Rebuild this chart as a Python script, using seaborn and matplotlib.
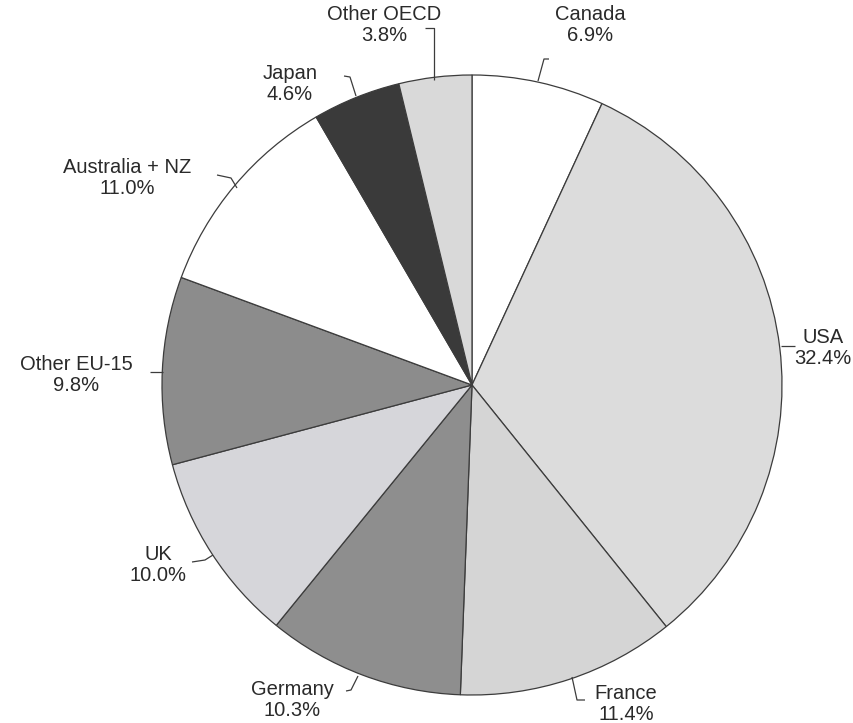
import matplotlib
matplotlib.use("Agg")
import matplotlib.pyplot as plt
import seaborn as sns

sns.set_theme(style="white")
plt.rcParams['font.family'] = ['Liberation Sans', 'DejaVu Sans']

regions = ["Canada", "USA", "France", "Germany", "UK", "Other EU-15",
           "Australia + NZ", "Japan", "Other OECD"]
shares = [6.9, 32.4, 11.4, 10.3, 10.0, 9.8, 11.0, 4.6, 3.8]
fills = ["#ffffff", "#dcdcdc", "#d5d5d5", "#8e8e8e", "#d6d6da", "#8c8c8c",
         "#ffffff", "#3a3a3a", "#d9d9d9"]

# label anchor (text centre) and leader-line path, in pixel coordinates
label_xy = [(590, 25), (823, 348), (626, 704), (292, 700), (158, 565),
            (76, 375), (127, 178), (290, 84), (384, 25)]
leaders = [
    [(538, 81), (544, 59), (549, 59)],
    [(781, 346), (795, 346)],
    [(572, 677), (577, 700), (585, 700)],
    [(358, 676), (351, 690), (346, 691)],
    [(213, 555), (205, 560), (192, 562)],
    [(163, 372), (150, 372)],
    [(237, 188), (231, 178), (217, 175)],
    [(356, 96), (350, 77), (344, 76)],
    [(434, 80), (434, 28), (425, 28)],
]

W, H = 854, 723
CX, CY, R = 472, 385, 310

fig = plt.figure(figsize=(W / 100, H / 100), dpi=100)
ax = fig.add_axes([0, 0, 1, 1])


def to_data(px, py):
    return (px - CX) / R, (CY - py) / R


ax.pie(shares, colors=fills, startangle=90, counterclock=False, radius=1.0,
       wedgeprops=dict(edgecolor="#3c3c3c", linewidth=0.9))

for name, val, (lx, ly), path in zip(regions, shares, label_xy, leaders):
    x, y = to_data(lx, ly)
    ax.text(x, y, f"{name}\n{val:.1f}%", ha="center", va="center",
            fontsize=14.5, color="#2a2a2a", linespacing=1.1)
    pts = [to_data(px, py) for px, py in path]
    ax.plot([p[0] for p in pts], [p[1] for p in pts], color="#3c3c3c",
            linewidth=0.9, solid_capstyle="butt")

ax.set_xlim(-CX / R, (W - CX) / R)
ax.set_ylim(-(H - CY) / R, CY / R)
ax.set_aspect("equal")
ax.axis("off")

fig.savefig("out.png", dpi=100, facecolor="white")
